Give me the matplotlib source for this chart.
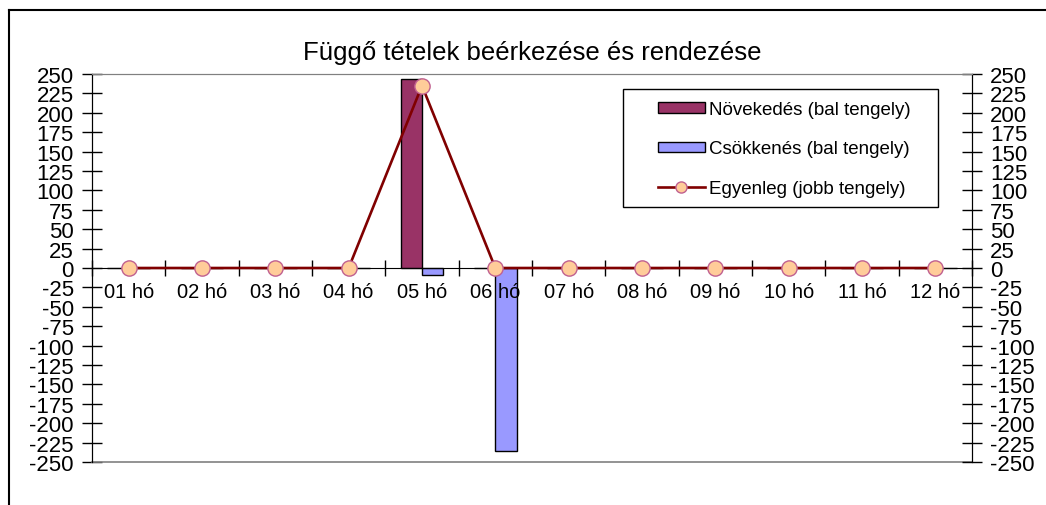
import numpy as np
import matplotlib
matplotlib.use('Agg')
import matplotlib.pyplot as plt
from matplotlib.lines import Line2D
from matplotlib.patches import Rectangle

plt.rcParams['font.family'] = ['Liberation Sans', 'DejaVu Sans']
plt.rcParams['axes.unicode_minus'] = False

# data
months = ['01 hó', '02 hó', '03 hó', '04 hó', '05 hó', '06 hó',
          '07 hó', '08 hó', '09 hó', '10 hó', '11 hó', '12 hó']
novekedes = [0, 0, 0, 0, 244, 0, 0, 0, 0, 0, 0, 0]
csokkenes = [0, 0, 0, 0, -9, -236, 0, 0, 0, 0, 0, 0]
egyenleg = [0, 0, 0, 0, 235, 0, 0, 0, 0, 0, 0, 0]
yticks = list(range(-250, 251, 25))

title = 'Függő tételek beérkezése és rendezése'
lbl_nov = 'Növekedés (bal tengely)'
lbl_cs = 'Csökkenés (bal tengely)'
lbl_egy = 'Egyenleg (jobb tengely)'

fig = plt.figure(figsize=(10.46, 5.06), dpi=100)
ax = fig.add_axes([92 / 1046, 1 - 463 / 506, 880 / 1046, 388 / 506])
ax2 = ax.twinx()

x = np.arange(len(months))
w = 0.29
b1 = ax.bar(x - w / 2, novekedes, w, color='#993366', edgecolor='black', linewidth=1, label=lbl_nov)
b2 = ax.bar(x + w / 2, csokkenes, w, color='#9999FF', edgecolor='black', linewidth=1, label=lbl_cs)
ln, = ax2.plot(x, egyenleg, color='#800000', lw=1.9, marker='o', markersize=11,
               markerfacecolor='#FFCC99', markeredgecolor='#C06090', markeredgewidth=1,
               label=lbl_egy, clip_on=False, zorder=5)

for a in (ax, ax2):
    a.set_xlim(-0.5, len(months) - 0.5)
    a.set_ylim(-250, 250)
    a.set_yticks(yticks)
    a.spines['top'].set_color('#808080')
    a.spines['bottom'].set_visible(False)

ax.tick_params(axis='y', direction='inout', length=14, width=1, labelsize=16, pad=6)
ax2.tick_params(axis='y', direction='inout', length=14, width=1, labelsize=16, pad=6)
ax2.set_yticklabels([str(v) for v in yticks])
ax.set_yticklabels([str(v) for v in yticks])

# category axis crossing at zero
ax.spines['bottom'].set_visible(True)
ax.spines['bottom'].set_position(('data', 0))
ax.spines['bottom'].set_color('black')
ax.set_xticks(np.arange(-0.5, len(months) - 0.5 + 0.01, 1.0))
ax.set_xticklabels([])
ax.tick_params(axis='x', which='major', direction='inout', length=12, width=1)
ax.set_xticks(x, minor=True)
ax.set_xticklabels(months, minor=True)
ax.tick_params(axis='x', which='minor', length=0, labelsize=14.5, pad=10)
ax.axhline(-250, color='#808080', lw=1.2, clip_on=False)

ax.set_title(title, fontsize=18.5, pad=11)

# legend box drawn separately so the entries can sit off-centre like the original
ax2.add_patch(Rectangle((0.603, 0.657), 0.358, 0.304, transform=ax2.transAxes,
                        facecolor='white', edgecolor='black', lw=1, zorder=6))
leg = ax2.legend([b1, b2, ln], [lbl_nov, lbl_cs, lbl_egy], loc='upper left',
                 bbox_to_anchor=((658 - 92) / 880, (463 - 102) / 388),
                 borderaxespad=0, borderpad=0, frameon=False,
                 fontsize=13.5, labelspacing=1.2,
                 handlelength=2.5, handleheight=0.5, handletextpad=0.2)
leg.set_zorder(7)
leg.legend_handles[2].set_markersize(8)

# outer chart frame
fig.add_artist(Line2D([9 / 1046, 9 / 1046], [0, 1 - 11 / 506], color='black', lw=1.5, transform=fig.transFigure))
fig.add_artist(Line2D([9 / 1046, 1], [1 - 11 / 506, 1 - 11 / 506], color='black', lw=1.5, transform=fig.transFigure))

fig.savefig('out.png', dpi=100)
